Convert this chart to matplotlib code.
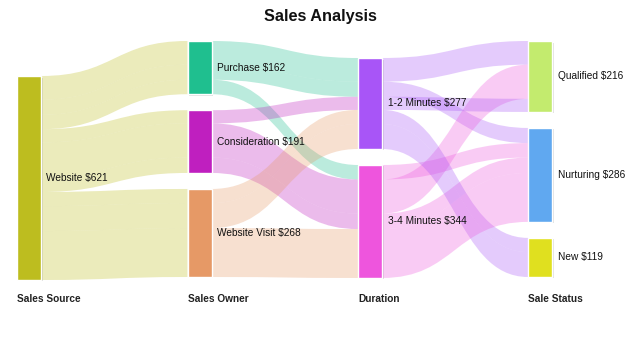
import matplotlib
matplotlib.use("Agg")
import matplotlib.pyplot as plt
from matplotlib.path import Path
from matplotlib.patches import PathPatch, Rectangle

plt.rcParams['font.family'] = ['Liberation Sans', 'DejaVu Sans']

# nodes, by column
node_names = ["Website", "Purchase", "Consideration", "Website Visit",
              "1-2 Minutes", "3-4 Minutes", "Qualified", "Nurturing", "New"]
node_cols = [0, 1, 1, 1, 2, 2, 3, 3, 3]
node_colors = ["#bdbd1f", "#1fbf8f", "#bf1fbf", "#e69966",
               "#a855f7", "#ee55dd", "#c3eb6e", "#60a8f0", "#e0e01f"]
col_labels = ["Sales Source", "Sales Owner", "Duration", "Sale Status"]

# links in drawing / stacking order
link_src = ["Website"] * 9 + \
    ["Purchase", "Purchase", "Purchase", "Consideration", "Consideration",
     "Consideration", "Website Visit", "Website Visit", "Website Visit"] + \
    ["1-2 Minutes", "1-2 Minutes", "3-4 Minutes", "3-4 Minutes", "1-2 Minutes",
     "3-4 Minutes", "1-2 Minutes", "1-2 Minutes", "3-4 Minutes"]
link_tgt = ["Purchase", "Purchase", "Purchase", "Consideration", "Consideration",
            "Consideration", "Website Visit", "Website Visit", "Website Visit"] + \
    ["1-2 Minutes", "1-2 Minutes", "3-4 Minutes", "1-2 Minutes", "3-4 Minutes",
     "3-4 Minutes", "1-2 Minutes", "1-2 Minutes", "3-4 Minutes"] + \
    ["Qualified", "Nurturing", "Nurturing", "Qualified", "Qualified",
     "Nurturing", "New", "New", "Nurturing"]
link_vals = [72, 46, 44, 40, 104, 47, 43, 76, 149] + \
    [72, 46, 44, 40, 104, 47, 43, 76, 149] + \
    [72, 46, 44, 104, 40, 47, 43, 76, 149]

# layout settings (pixels)
W, H = 641, 351
scale = 0.3285
gap = 16
node_w = 24
col_x = [17, 187.5, 358, 528]
col_top = [76, 41, 58, 41]

node_val = {}
for n in node_names:
    ins = sum(v for t, v in zip(link_tgt, link_vals) if t == n)
    outs = sum(v for s, v in zip(link_src, link_vals) if s == n)
    node_val[n] = max(ins, outs)

node_pos = {}
col_y = list(col_top)
for n, c in zip(node_names, node_cols):
    h = node_val[n] * scale
    node_pos[n] = (col_x[c], col_y[c], h)
    col_y[c] += h + gap

fig = plt.figure(figsize=(W / 100, H / 100), dpi=100)
ax = fig.add_axes([0, 0, 1, 1])
ax.set_xlim(0, W)
ax.set_ylim(H, 0)
ax.axis("off")

color_of = dict(zip(node_names, node_colors))
out_off = {n: 0.0 for n in node_names}
in_off = {n: 0.0 for n in node_names}
for s, t, v in zip(link_src, link_tgt, link_vals):
    sx, sy, _ = node_pos[s]
    tx, ty, _ = node_pos[t]
    h = v * scale
    x0 = sx + node_w
    x1 = tx
    y0 = sy + out_off[s]
    y1 = ty + in_off[t]
    out_off[s] += h
    in_off[t] += h
    xm = (x0 + x1) / 2
    verts = [(x0, y0), (xm, y0), (xm, y1), (x1, y1),
             (x1, y1 + h), (xm, y1 + h), (xm, y0 + h), (x0, y0 + h), (x0, y0)]
    codes = [Path.MOVETO, Path.CURVE4, Path.CURVE4, Path.CURVE4,
             Path.LINETO, Path.CURVE4, Path.CURVE4, Path.CURVE4, Path.CLOSEPOLY]
    ax.add_patch(PathPatch(Path(verts, codes), facecolor=color_of[s],
                           edgecolor="none", alpha=0.3, zorder=1))

for n in node_names:
    x, y, h = node_pos[n]
    ax.add_patch(Rectangle((x + 1.5, y + 1.5), node_w, h, facecolor="#000000",
                           alpha=0.12, edgecolor="none", zorder=2))
    ax.add_patch(Rectangle((x, y), node_w, h, facecolor=color_of[n],
                           edgecolor="white", linewidth=1, zorder=3))
    ax.text(x + node_w + 5.5, y + h / 2, f"{n} ${node_val[n]}", fontsize=7.3,
            color="#111111", va="center", ha="left", zorder=4)

for c, lab in enumerate(col_labels):
    ax.text(col_x[c], 299, lab, fontsize=7.3, fontweight="bold",
            color="#222222", va="center", ha="left")

ax.text(W / 2, 16, "Sales Analysis", fontsize=11.7, fontweight="bold",
        color="#111111", ha="center", va="center")

fig.savefig("out.png", dpi=100)
